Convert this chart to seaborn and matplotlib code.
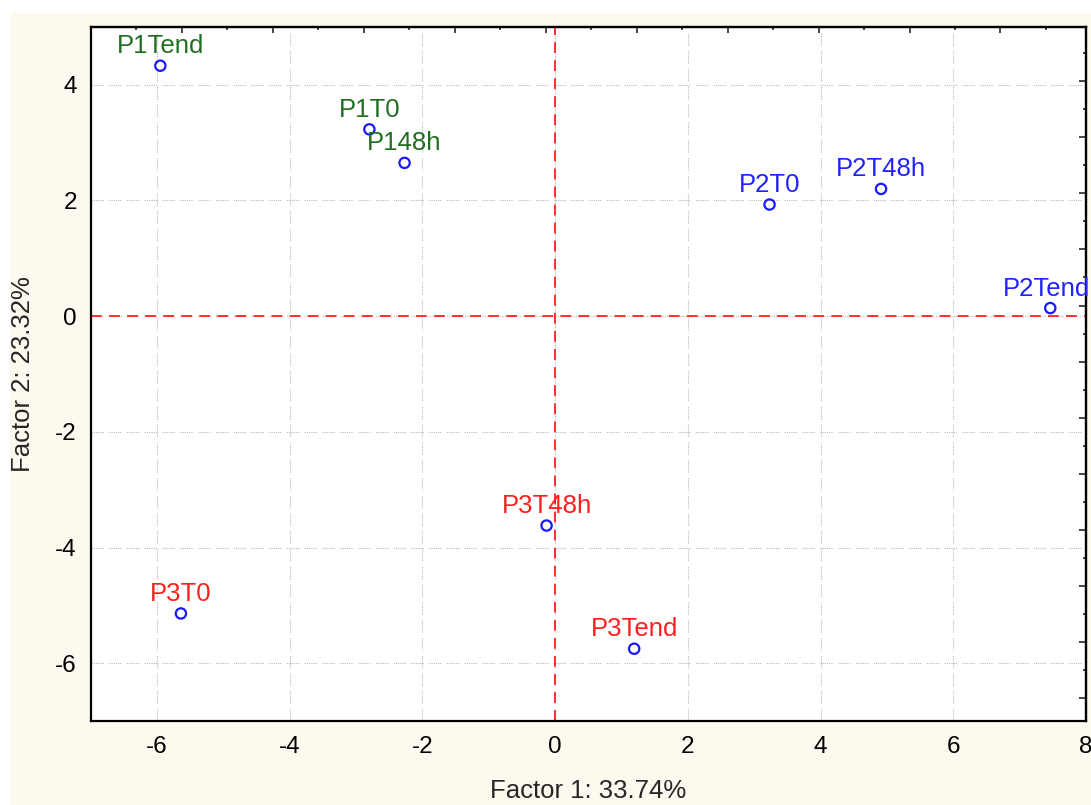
import numpy as np
import pandas as pd
import matplotlib
matplotlib.use("Agg")
import matplotlib.pyplot as plt
from matplotlib.patches import Rectangle
from matplotlib.ticker import MultipleLocator, NullFormatter
import seaborn as sns

# Sample scores on the first two factors
samples = ["P1Tend", "P1T0", "P148h", "P2T0", "P2T48h", "P2Tend", "P3T0", "P3T48h", "P3Tend"]
factor1 = [-5.95, -2.80, -2.27, 3.23, 4.91, 7.46, -5.64, -0.13, 1.19]
factor2 = [4.33, 3.23, 2.65, 1.93, 2.20, 0.14, -5.14, -3.62, -5.75]
groups = ["P1", "P1", "P1", "P2", "P2", "P2", "P3", "P3", "P3"]

x_label = "Factor 1: 33.74%"
y_label = "Factor 2: 23.32%"

group_colors = {"P1": "#216e21", "P2": "#2222ff", "P3": "#ff1f1f"}
cream = "#fef9ef"
# horizontal nudge (points) for labels sitting against the frame edge
label_nudge = {"P2Tend": -3}

df = pd.DataFrame({"sample": samples, "f1": factor1, "f2": factor2, "group": groups})

sns.set_style("white")
plt.rcParams["font.family"] = ["Liberation Sans", "DejaVu Sans"]
plt.rcParams["axes.unicode_minus"] = False

fig = plt.figure(figsize=(10.91, 8.05), dpi=100)
fig.patch.set_facecolor("white")
fig.add_artist(Rectangle((10 / 1091, 0), 1 - 10 / 1091, 1 - 13 / 805,
                         transform=fig.transFigure, facecolor=cream,
                         edgecolor="none", zorder=-10))

ax = fig.add_axes([0.0831, 0.1043, 0.9124, 0.8622])
ax.set_facecolor("white")

# Dotted grid at the major ticks
grid_dash = (0, (1, 1, 1, 1, 1, 1, 1, 1, 1, 1, 1, 5))
for v in np.arange(-6, 9, 2):
    ax.axvline(v, color="#b8b8b8", lw=0.8, linestyle=grid_dash, zorder=0)
for v in np.arange(-6, 5, 2):
    ax.axhline(v, color="#b8b8b8", lw=0.8, linestyle=grid_dash, zorder=0)

# Origin lines
ax.axvline(0, color="#ff2020", lw=1.3, linestyle=(0, (6, 4)), zorder=1)
ax.axhline(0, color="#ff2020", lw=1.3, linestyle=(0, (6, 4)), zorder=1)

sns.scatterplot(data=df, x="f1", y="f2", ax=ax, marker="o", s=55,
                facecolors="none", edgecolor="#1a1aff", linewidth=1.6,
                zorder=3, legend=False)

for name, xv, yv, g in zip(samples, factor1, factor2, groups):
    ax.annotate(name, (xv, yv), xytext=(label_nudge.get(name, 0), 9),
                textcoords="offset points", ha="center", va="baseline",
                fontsize=18.5, color=group_colors[g],
                annotation_clip=False, zorder=4)

ax.set_xlim(-7, 8)
ax.set_ylim(-7, 5)
ax.xaxis.set_major_locator(MultipleLocator(2))
ax.xaxis.set_minor_locator(MultipleLocator(1))
ax.yaxis.set_major_locator(MultipleLocator(2))
ax.yaxis.set_minor_locator(MultipleLocator(1))
ax.tick_params(which="major", direction="in", length=5, width=1.2,
               labelsize=17.5, pad=11, colors="black")
ax.tick_params(which="minor", direction="in", length=2.5, width=1.2)
ax.tick_params(axis="y", which="major", pad=10)

for sp in ax.spines.values():
    sp.set_color("black")
    sp.set_linewidth(1.6)

ax.set_xlabel(x_label, fontsize=18.5)
ax.set_ylabel(y_label, fontsize=18.5)
ax.xaxis.set_label_coords(0.5, -0.083)
ax.yaxis.set_label_coords(-0.056, 0.5)

# Secondary scales on the top and right frame (ticks only)
top = ax.secondary_xaxis("top", functions=(lambda x: (x + 7) / 1.371,
                                           lambda u: u * 1.371 - 7))
top.xaxis.set_major_locator(MultipleLocator(1))
top.xaxis.set_minor_locator(MultipleLocator(0.5))
top.xaxis.set_major_formatter(NullFormatter())
top.tick_params(which="major", direction="in", length=4, width=1.2)
top.tick_params(which="minor", direction="in", length=2.5, width=1.2)
top.spines["top"].set_linewidth(1.6)

right = ax.secondary_yaxis("right", functions=(lambda y: (y - 4.06) / 0.969,
                                               lambda u: u * 0.969 + 4.06))
right.yaxis.set_major_locator(MultipleLocator(1))
right.yaxis.set_minor_locator(MultipleLocator(0.5))
right.yaxis.set_major_formatter(NullFormatter())
right.tick_params(which="major", direction="in", length=5, width=1.2)
right.tick_params(which="minor", direction="in", length=2.5, width=1.2)
right.spines["right"].set_linewidth(1.6)

fig.savefig("out.png", dpi=100, facecolor=fig.get_facecolor())
